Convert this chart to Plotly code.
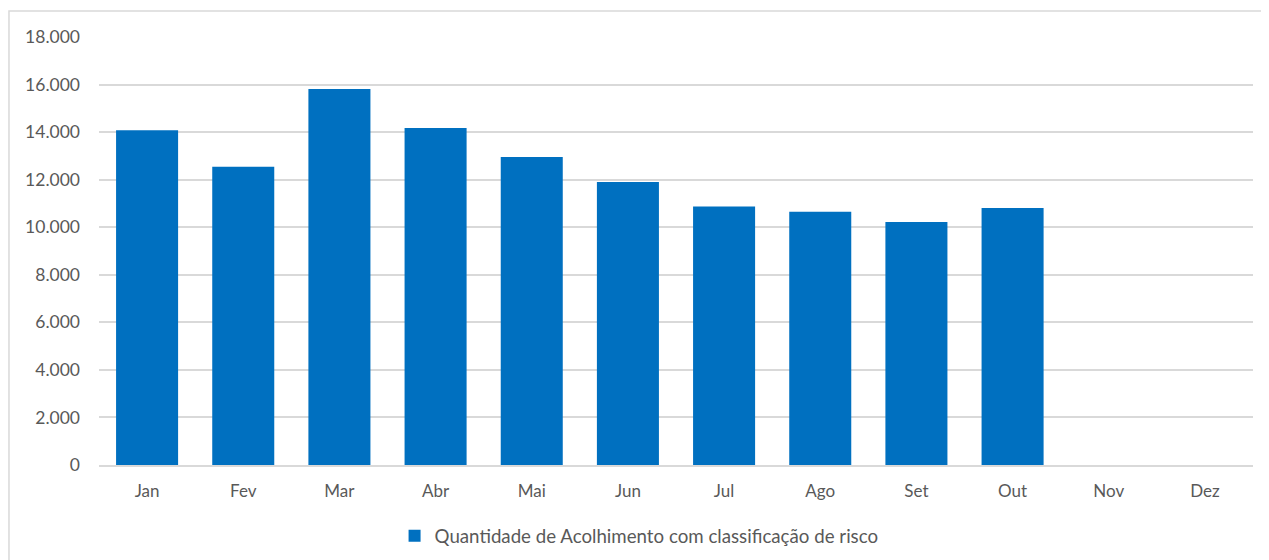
import plotly.graph_objects as go

meses = ["Jan", "Fev", "Mar", "Abr", "Mai", "Jun", "Jul", "Ago", "Set", "Out", "Nov", "Dez"]
acolhimentos = [14080, 12540, 15810, 14170, 12950, 11900, 10870, 10650, 10220, 10810, None, None]
y_ticks = [0, 2000, 4000, 6000, 8000, 10000, 12000, 14000, 16000, 18000]

AZUL = "#0070C0"
CINZA_TEXTO = "#595959"
CINZA_GRADE = "#D9D9D9"

fig = go.Figure(
    go.Bar(
        x=meses,
        y=acolhimentos,
        name="Quantidade de Acolhimento com classificação de risco",
        marker=dict(color=AZUL, line=dict(width=0)),
        showlegend=True,
    )
)

# moldura externa do gráfico (como no Excel)
fig.add_shape(
    type="rect", xref="paper", yref="paper",
    x0=-0.078, x1=1.012, y0=-0.25, y1=1.061,
    line=dict(color=CINZA_GRADE, width=1.5),
    layer="below",
)

fig.update_layout(
    width=1261,
    height=552,
    margin=dict(t=29, b=95, l=91, r=16, autoexpand=False),
    paper_bgcolor="white",
    plot_bgcolor="white",
    separators=",.",
    bargap=0.355,
    font=dict(family="Lato, 'Open Sans', sans-serif", size=17, color=CINZA_TEXTO),
    xaxis=dict(
        type="category",
        showgrid=False,
        showline=True,
        linecolor=CINZA_GRADE,
        linewidth=1.5,
        ticks="",
        ticklabelstandoff=10,
        tickfont=dict(size=17),
    ),
    yaxis=dict(
        range=[0, 18000],
        tickvals=y_ticks,
        tickformat=",d",
        showgrid=True,
        gridcolor=CINZA_GRADE,
        gridwidth=1.5,
        zeroline=False,
        showline=False,
        ticklabelstandoff=18,
        tickfont=dict(size=17.5),
    ),
    legend=dict(
        orientation="h",
        x=0.468, xanchor="center",
        y=-0.166, yanchor="middle",
        font=dict(size=18.7, color=CINZA_TEXTO),
        itemwidth=30,
        bgcolor="rgba(0,0,0,0)",
    ),
)

fig.write_html("out.html")
